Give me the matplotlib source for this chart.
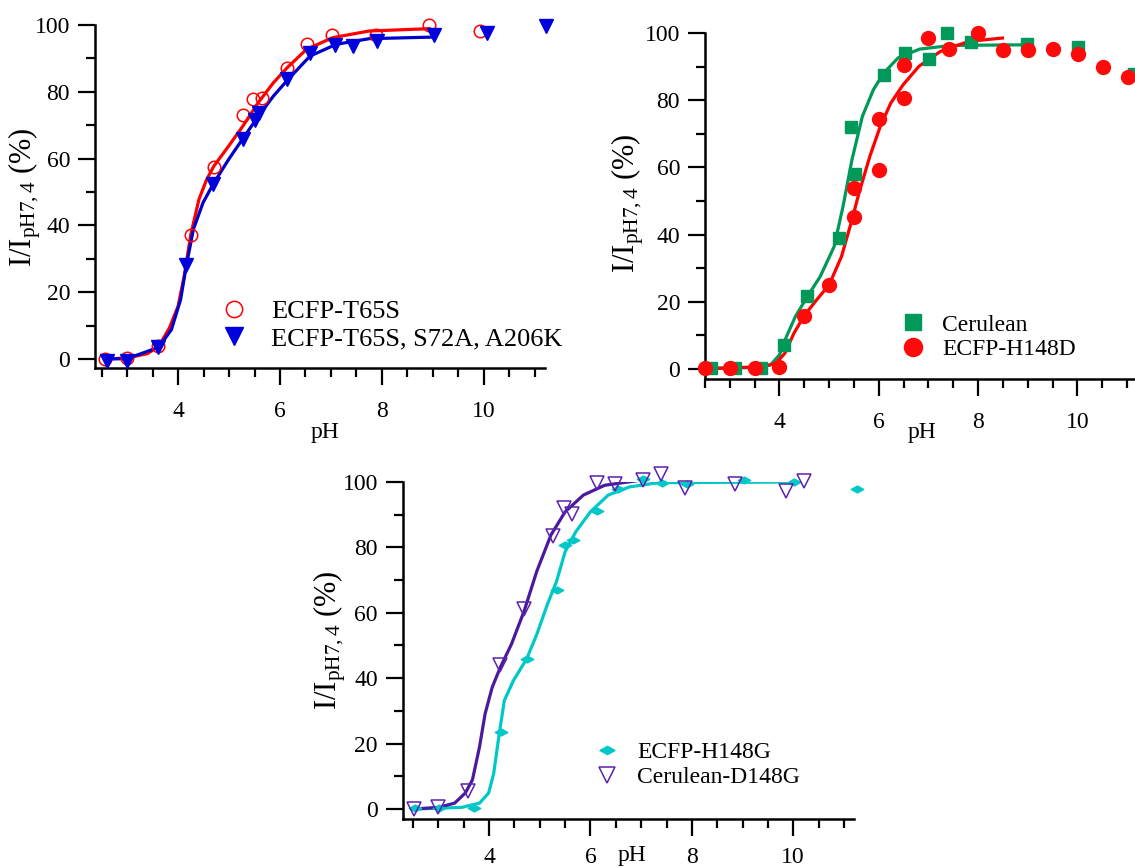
import matplotlib
matplotlib.use("Agg")
import matplotlib.pyplot as plt
from matplotlib.ticker import MultipleLocator, FixedLocator
from matplotlib.path import Path

plt.rcParams['font.family'] = ['Liberation Serif', 'DejaVu Serif']
plt.rcParams['mathtext.fontset'] = 'custom'
plt.rcParams['mathtext.rm'] = 'Liberation Serif'
plt.rcParams['mathtext.it'] = 'Liberation Serif:italic'

# ---- panel 1 : ECFP-T65S / ECFP-T65S, S72A, A206K
t65s_ph = [2.56, 3.0, 3.6, 4.25, 4.70, 5.27, 5.48, 5.64, 6.14, 6.53, 7.02, 7.89, 8.92, 9.92]
t65s_val = [0, 0.3, 3.9, 37.2, 57.5, 73, 77.8, 78, 87, 94.3, 97.1, 97, 100.1, 98.2]
t65s_fit_ph = [2.56, 3.0, 3.4, 3.62, 3.83, 4.0, 4.12, 4.25, 4.41, 4.56, 4.70, 4.99, 5.27,
               5.57, 5.87, 6.14, 6.52, 7.03, 7.75, 8.93]
t65s_fit_val = [0, 0.3, 1.6, 3.8, 9.3, 15.8, 24.8, 37.3, 47.8, 53.7, 57.7, 63.7, 69.7,
                76.7, 82.7, 87.2, 92.7, 96.2, 98.2, 98.9]

triple_ph = [2.6, 3.0, 3.6, 4.16, 4.69, 5.28, 5.5, 5.59, 6.14, 6.59, 7.07, 7.43, 7.9, 9.03, 10.07, 11.22]
triple_val = [-0.6, -0.5, 3.5, 28, 52.4, 66, 71.6, 73.8, 83.7, 91.5, 93.9, 93.7, 95.1, 97.1, 97.7, 99.8]
triple_fit_ph = [2.6, 3.0, 3.62, 3.87, 4.05, 4.16, 4.30, 4.49, 4.69, 4.99, 5.28, 5.60, 5.87,
                 6.14, 6.59, 7.1, 7.75, 9.04]
triple_fit_val = [0, 0.1, 3.5, 8.8, 17.8, 27.8, 38.8, 46.8, 52.4, 59.7, 66.2, 73.2, 78.7,
                  83.4, 90.7, 94.2, 95.9, 96.4]

# ---- panel 2 : Cerulean / ECFP-H148D
cer_ph = [2.62, 3.11, 3.63, 4.09, 4.56, 5.2, 5.45, 5.52, 6.11, 6.52, 7.02, 7.38, 7.86, 8.98, 10.02, 11.14]
cer_val = [0.2, 0.2, 0.2, 7.2, 21.7, 39.1, 71.9, 58, 87.4, 94, 92.3, 100, 97.3, 96.7, 95.7, 87.9]
cer_fit_ph = [2.5, 3.54, 3.82, 4.0, 4.14, 4.32, 4.56, 4.82, 5.1, 5.28, 5.46, 5.67, 5.89,
              6.1, 6.39, 6.82, 7.46, 9.02]
cer_fit_val = [0.2, 0.4, 1.2, 4.2, 9.6, 15.6, 21.5, 27.5, 36.4, 48.4, 62.3, 75.2, 83.1,
               88.1, 92.6, 95.2, 96.3, 96.5]

h148d_ph = [2.5, 3.0, 3.5, 4.0, 4.5, 5.0, 5.5, 5.5, 6.0, 6.0, 6.5, 6.5, 7.0, 7.41, 8.0,
            8.51, 9.01, 9.51, 10.01, 10.51, 11.01]
h148d_val = [0.2, 0.4, 0.4, 0.7, 15.9, 25, 53.8, 45.1, 74.5, 59.3, 90.6, 80.6, 98.5, 95.3, 100,
             94.8, 94.8, 95.3, 93.7, 89.9, 86.8]
h148d_fit_ph = [2.5, 3.68, 3.93, 4.11, 4.29, 4.5, 4.75, 5.0, 5.25, 5.46, 5.6, 5.82, 6.03,
                6.24, 6.49, 6.81, 7.24, 7.81, 8.49]
h148d_fit_val = [0, 0.7, 1.7, 4.7, 10.6, 15.9, 20.6, 25, 33.5, 44.4, 52.3, 63.3, 72.2,
                 79.1, 84.6, 90.1, 94.5, 97.5, 98.5]

# ---- panel 3 : ECFP-H148G / Cerulean-D148G
h148g_ph = [2.54, 3.02, 3.7, 4.23, 4.74, 5.33, 5.5, 5.66, 6.12, 6.55, 7.04, 7.42, 7.9, 9.03, 10.02, 11.25]
h148g_val = [0.3, 0.3, 0.3, 23.6, 45.9, 66.9, 80.6, 82.3, 91.1, 97.8, 101, 99.8, 99.3, 100.5, 100, 97.8]
h148g_fit_ph = [2.54, 3.46, 3.81, 3.99, 4.09, 4.2, 4.3, 4.48, 4.74, 4.94, 5.15, 5.33, 5.5,
                5.71, 6.0, 6.35, 6.77, 7.34, 10.02]
h148g_fit_val = [0, 0.5, 1.8, 4.9, 10.9, 23.1, 33.2, 39.3, 45.9, 53.4, 62.6, 69.6, 78.7,
                 84.8, 90.9, 96.0, 98.5, 99.8, 100]

d148g_ph = [2.52, 3.0, 3.58, 4.22, 4.69, 5.26, 5.47, 5.63, 6.12, 6.49, 7.04, 7.39, 7.87, 8.86, 9.86, 10.22]
d148g_val = [0, 0.6, 5.6, 44, 61.2, 83.6, 92.2, 90.1, 99.7, 99.5, 100.5, 102.3, 98.3, 99.3, 97.3, 100.3]
d148g_fit_ph = [2.53, 3.0, 3.32, 3.53, 3.67, 3.81, 3.92, 4.06, 4.22, 4.44, 4.69, 4.94, 5.22,
                5.5, 5.86, 6.28, 7.06]
d148g_fit_val = [0, 0.5, 1.8, 4.9, 8.9, 19.0, 29.1, 37.2, 43.3, 50.4, 60.5, 72.7, 83.8,
                 90.9, 96.0, 99, 100.7]

W, H = 1135, 868
fig = plt.figure(figsize=(W / 100, H / 100), dpi=100)


def px_axes(left, right, top, bottom):
    return fig.add_axes([left / W, 1 - bottom / H, (right - left) / W, (bottom - top) / H])


def style(ax, xlim, ylo, xpad=12):
    ax.set_xlim(*xlim)
    ax.set_ylim(ylo, 100)
    for s in ['top', 'right']:
        ax.spines[s].set_visible(False)
    for s in ['left', 'bottom']:
        ax.spines[s].set_linewidth(1.8)
    ax.xaxis.set_major_locator(FixedLocator([4, 6, 8, 10]))
    ax.xaxis.set_minor_locator(MultipleLocator(0.5))
    ax.yaxis.set_major_locator(MultipleLocator(20))
    ax.yaxis.set_minor_locator(MultipleLocator(10))
    ax.tick_params(axis='both', which='major', length=12, width=1.6, labelsize=17, direction='out')
    ax.tick_params(axis='both', which='minor', length=6.5, width=1.6, direction='out')
    ax.tick_params(axis='x', which='major', pad=xpad)
    ax.tick_params(axis='y', which='major', pad=6)


ylab = r'I/I$_{\mathrm{pH7,4}}$ (%)'


def fig_text(x, y, s, **kw):
    fig.text(x / W, 1 - y / H, s, ha='center', va='center', **kw)


# panel 1
ax1 = px_axes(95, 545, 25, 368)
style(ax1, (2.37, 11.2), -2.7)
ax1.plot(t65s_fit_ph, t65s_fit_val, color='#ff0000', lw=2.3, zorder=2)
ax1.plot(triple_fit_ph, triple_fit_val, color='#0000cc', lw=2.3, zorder=2)
ax1.plot(t65s_ph, t65s_val, 'o', ms=9, mfc='none', mec='#ff0000', mew=1.1,
         clip_on=False, zorder=3, label='ECFP-T65S')
ax1.plot(triple_ph, triple_val, 'v', ms=10, color='#0000dd', clip_on=False, zorder=3,
         label='ECFP-T65S, S72A, A206K')
ax1.legend(loc='center left', bbox_to_anchor=(221 / W, 1 - 325 / H), bbox_transform=fig.transFigure,
           frameon=False, fontsize=19, handlelength=1.0, handletextpad=0.9, borderpad=0,
           borderaxespad=0, labelspacing=0.15, markerscale=1.3)
fig_text(25, 197, ylab, rotation=90, fontsize=22)
fig_text(325, 432, 'pH', fontsize=17)

# panel 2
ax2 = px_axes(705, 1137, 33, 379)
style(ax2, (2.5, 11.2), -3.0)
ax2.plot(cer_fit_ph, cer_fit_val, color='#00995a', lw=2.3, zorder=2)
ax2.plot(h148d_fit_ph, h148d_fit_val, color='#ff0000', lw=2.3, zorder=2)
ax2.plot(cer_ph, cer_val, 's', ms=9, color='#00995a', clip_on=False, zorder=3, label='Cerulean')
ax2.plot(h148d_ph, h148d_val, 'o', ms=10, color='#ff0a0a', clip_on=False, zorder=3, label='ECFP-H148D')
ax2.legend(loc='center left', bbox_to_anchor=(901 / W, 1 - 337 / H), bbox_transform=fig.transFigure,
           frameon=False, fontsize=17, handlelength=1.0, handletextpad=0.75, borderpad=0,
           borderaxespad=0, labelspacing=0.12, markerscale=1.3)
fig_text(628, 203, ylab, rotation=90, fontsize=22)
fig_text(922, 432, 'pH', fontsize=17)

# panel 3
wide_diamond = Path([(-1, 0), (0, 0.55), (1, 0), (0, -0.55), (-1, 0)],
                    [Path.MOVETO, Path.LINETO, Path.LINETO, Path.LINETO, Path.CLOSEPOLY])
ax3 = px_axes(403, 854, 482, 819)
style(ax3, (2.3, 11.2), -3.06, xpad=8)
ax3.plot(h148g_fit_ph, h148g_fit_val, color='#00c8c8', lw=2.3, zorder=2)
ax3.plot(d148g_fit_ph, d148g_fit_val, color='#4a1a9e', lw=2.3, zorder=2)
ax3.plot(h148g_ph, h148g_val, ls='none', marker=wide_diamond, ms=9, color='#00c8c8',
         clip_on=False, zorder=3, label='ECFP-H148G')
ax3.plot(d148g_ph, d148g_val, 'v', ms=10, mfc='none', mec='#5a22b0', mew=1.1,
         clip_on=False, zorder=3, label='Cerulean-D148G')
ax3.legend(loc='center left', bbox_to_anchor=(595 / W, 1 - 765 / H), bbox_transform=fig.transFigure,
           frameon=False, fontsize=17, handlelength=1.0, handletextpad=0.8, borderpad=0,
           borderaxespad=0, labelspacing=0.15, markerscale=1.2)
fig_text(330, 640, ylab, rotation=90, fontsize=22)
fig_text(632, 856, 'pH', fontsize=17)

fig.savefig('out.png', dpi=100)
